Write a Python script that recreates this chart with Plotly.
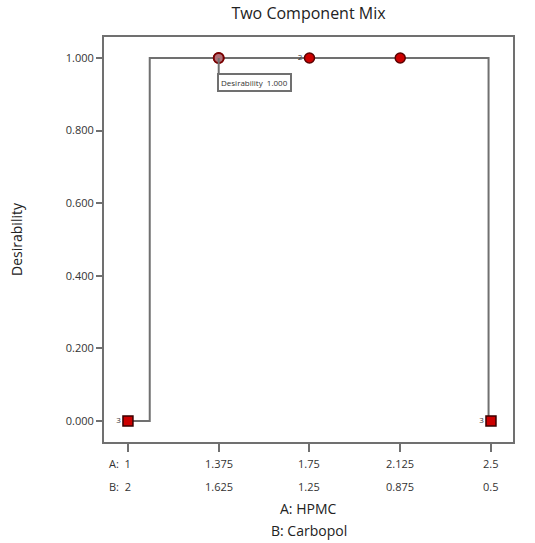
import plotly.graph_objects as go

# Data
A_ticks = [1, 1.375, 1.75, 2.125, 2.5]
A_labels = ["1", "1.375", "1.75", "2.125", "2.5"]
B_labels = ["2", "1.625", "1.25", "0.875", "0.5"]
y_ticks = [0.0, 0.2, 0.4, 0.6, 0.8, 1.0]
y_labels = ["0.000", "0.200", "0.400", "0.600", "0.800", "1.000"]

curve_x = [1.0, 1.09, 1.09, 2.49, 2.49, 2.5]
curve_y = [0.0, 0.0, 1.0, 1.0, 0.0, 0.0]

square_x = [1.0, 2.5]
square_y = [0.0, 0.0]
square_rep = ["3", "3"]

circle_x = [1.375, 1.75, 2.125]
circle_y = [1.0, 1.0, 1.0]
circle_rep = ["", "2", ""]

sel_x = 1.375
sel_y = 1.0
sel_text = "Desirability  1.000"

FONT = "Open Sans"
GRAY = "#707070"

fig = go.Figure()
fig.add_trace(go.Scatter(x=curve_x, y=curve_y, mode="lines",
                         line=dict(color=GRAY, width=2), hoverinfo="skip"))
fig.add_trace(go.Scatter(x=square_x, y=square_y, mode="markers+text",
                         marker=dict(symbol="square", size=10, color="#cc0000",
                                     line=dict(color="#3a0000", width=1.5)),
                         text=square_rep, textposition="middle left",
                         textfont=dict(size=8, color="#333333", family=FONT)))
fig.add_trace(go.Scatter(x=circle_x, y=circle_y, mode="markers+text",
                         marker=dict(symbol="circle", size=10, color="#cc0000",
                                     line=dict(color="#5a0000", width=1.5)),
                         text=circle_rep, textposition="middle left",
                         textfont=dict(size=8, color="#333333", family=FONT)))
fig.add_trace(go.Scatter(x=[sel_x], y=[sel_y], mode="markers",
                         marker=dict(symbol="circle", size=10, color="#b07078",
                                     line=dict(color="#7a0000", width=2))))

# leader line from the selected point to the label box
fig.add_shape(type="line", x0=sel_x, x1=sel_x, y0=sel_y, y1=sel_y - 0.042,
              xref="x", yref="y", line=dict(color=GRAY, width=2))
fig.add_annotation(x=sel_x, y=sel_y, xref="x", yref="y", text=sel_text,
                   showarrow=False, xanchor="left", yanchor="top",
                   xshift=-2, yshift=-15, bgcolor="white",
                   bordercolor=GRAY, borderwidth=2, borderpad=2,
                   font=dict(size=8, color="#333333", family=FONT))

# two-row x tick labels
for i, (xa, la, lb) in enumerate(zip(A_ticks, A_labels, B_labels)):
    ta = ("A:  " + la) if i == 0 else la
    tb = ("B:  " + lb) if i == 0 else lb
    xs = -8 if i == 0 else 0
    fig.add_annotation(x=xa, y=0, xref="x", yref="paper", text=ta, showarrow=False,
                       yshift=-31, xshift=xs, font=dict(size=11, color="#333333", family=FONT))
    fig.add_annotation(x=xa, y=0, xref="x", yref="paper", text=tb, showarrow=False,
                       yshift=-54, xshift=xs, font=dict(size=11, color="#333333", family=FONT))

fig.add_annotation(x=0.5, y=0, xref="paper", yref="paper", text="A: HPMC", showarrow=False,
                   yshift=-78, font=dict(size=14, color="#222222", family=FONT))
fig.add_annotation(x=0.5, y=0, xref="paper", yref="paper", text="B: Carbopol", showarrow=False,
                   yshift=-100, font=dict(size=14, color="#222222", family=FONT))

fig.update_layout(
    width=535, height=543,
    margin=dict(l=104, r=22, t=37, b=101),
    paper_bgcolor="white", plot_bgcolor="white",
    showlegend=False,
    title=dict(text="Two Component Mix", x=0.5, xref="paper", y=0.975, yanchor="middle",
               font=dict(size=16, color="#222222", family=FONT)),
    font=dict(family=FONT, color="#333333"),
)
fig.update_xaxes(range=[0.901, 2.591], tickvals=A_ticks, ticktext=[""] * 5,
                 ticks="outside", ticklen=8, tickwidth=2, tickcolor=GRAY,
                 showline=True, linecolor=GRAY, linewidth=2, mirror=True,
                 showgrid=False, zeroline=False, automargin=False)
fig.update_yaxes(range=[-0.058, 1.058], tickvals=y_ticks, ticktext=y_labels,
                 ticks="outside", ticklen=6, tickwidth=2, tickcolor=GRAY,
                 tickfont=dict(size=11, color="#333333", family=FONT),
                 showline=True, linecolor=GRAY, linewidth=2, mirror=True,
                 showgrid=False, zeroline=False, automargin=False,
                 title=dict(text="Desirability", standoff=40,
                            font=dict(size=14, color="#222222", family=FONT)))

fig.write_html("out.html", config={"displayModeBar": False},
               post_script="document.body.style.margin='0';")
